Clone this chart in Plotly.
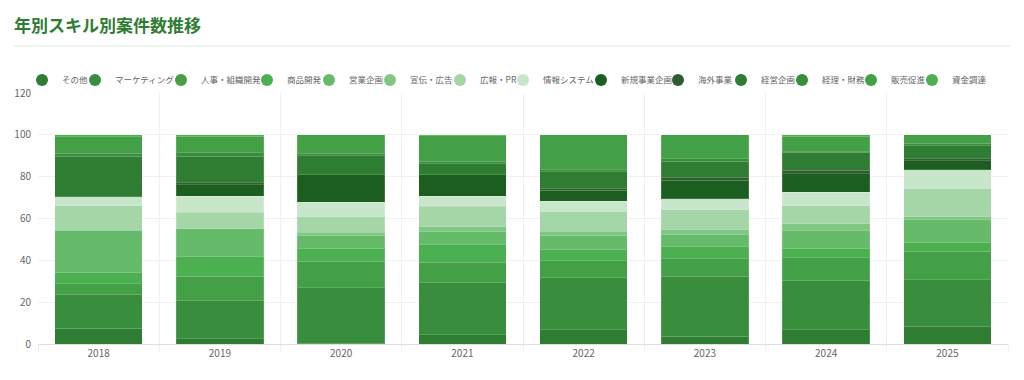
import plotly.graph_objects as go

years = ["2018", "2019", "2020", "2021", "2022", "2023", "2024", "2025"]

skills = ["その他", "マーケティング", "人事・組織開発", "商品開発", "営業企画", "宣伝・広告",
          "広報・PR", "情報システム", "新規事業企画", "海外事業", "経営企画", "経理・財務",
          "販売促進", "資金調達"]

other = [7.5, 2.6, 0.3, 4.5, 6.9, 3.7, 6.9, 8.5]
marketing = [16.3, 18.0, 26.7, 24.7, 24.7, 28.7, 23.6, 22.3]
hr = [4.9, 11.8, 12.6, 9.9, 8.3, 8.3, 10.8, 13.5]
product = [5.3, 9.5, 5.9, 8.4, 5.2, 6.0, 4.2, 4.0]
sales_plan = [20.4, 13.1, 6.3, 6.1, 6.7, 5.6, 8.9, 11.2]
advertising = [0.0, 0.0, 1.6, 2.4, 2.1, 2.4, 3.0, 1.3]
pr = [11.8, 8.0, 7.4, 9.9, 9.4, 9.6, 8.8, 13.4]
it_sys = [4.1, 7.7, 7.0, 4.8, 5.0, 5.1, 6.4, 9.2]
new_biz = [0.0, 5.5, 13.2, 10.3, 5.1, 8.9, 8.9, 4.2]
overseas = [0.0, 0.8, 0.0, 0.0, 0.8, 1.1, 1.6, 0.9]
corp_plan = [19.5, 12.8, 9.1, 5.1, 8.1, 8.0, 8.6, 6.4]
finance = [1.3, 1.6, 1.0, 1.3, 1.1, 1.1, 0.3, 1.0]
promotion = [7.9, 8.0, 8.9, 12.1, 16.6, 11.5, 7.4, 4.1]
funding = [1.0, 0.6, 0.0, 0.5, 0.0, 0.0, 0.6, 0.0]

series = [other, marketing, hr, product, sales_plan, advertising, pr, it_sys,
          new_biz, overseas, corp_plan, finance, promotion, funding]

palette = ["#2e7d32", "#388e3c", "#43a047", "#4caf50", "#66bb6a", "#81c784",
           "#a5d6a7", "#c8e6c9", "#1b5e20", "#2f5d31"]

# legend symbol centres (px) measured from reference
legend_centers_px = [47, 100, 186, 272, 334, 395, 465, 528, 606, 683, 746, 807, 876, 937]

W, H = 1024, 380
ML, MR, MT, MB = 38, 16, 93, 36
PW = W - ML - MR
PH = H - MT - MB

FONT = "Noto Sans CJK JP"

fig = go.Figure()
layout_legends = {}
for i, (name, vals) in enumerate(zip(skills, series)):
    color = palette[i % len(palette)]
    fig.add_trace(go.Bar(
        x=years, y=vals, name=name, legendgroup=name, showlegend=False,
        marker=dict(color=color, line=dict(color="rgba(255,255,255,0.15)", width=1)),
    ))
    lkey = "legend" if i == 0 else f"legend{i + 1}"
    fig.add_trace(go.Scatter(
        x=[None], y=[None], name=name, legendgroup=name, mode="markers",
        marker=dict(color=color, size=12, symbol="circle"),
        legend=lkey, showlegend=True,
    ))
    layout_legends[lkey] = dict(
        x=(legend_centers_px[i] - 25 - ML) / PW, xanchor="left",
        y=(H - MB - 80) / PH, yanchor="middle",
        orientation="h", bgcolor="rgba(0,0,0,0)", borderwidth=0,
        font=dict(family=FONT, size=8.5, color="#666666"),
        itemwidth=30,
    )

fig.update_layout(
    width=W, height=H,
    margin=dict(l=ML, r=MR, t=MT, b=MB, pad=0, autoexpand=False),
    barmode="stack", bargap=0.28,
    plot_bgcolor="white", paper_bgcolor="white",
    font=dict(family=FONT, color="#666666", size=10),
    title=dict(text="<b>年別スキル別案件数推移</b>", x=14 / W, xanchor="left",
               y=1 - 26 / H, yanchor="middle",
               font=dict(family=FONT, size=17, color="#2e7d32")),
    xaxis=dict(type="category", tickson="boundaries", showgrid=True,
               gridcolor="#f0f0f0", gridwidth=1, ticks="outside", ticklen=8,
               tickcolor="#f0f0f0", showline=True, linecolor="#e0e0e0",
               tickfont=dict(size=10, color="#666666")),
    yaxis=dict(range=[0, 120], dtick=20, showgrid=True, gridcolor="#f0f0f0",
               zeroline=False, ticks="", ticklabelstandoff=6,
               tickfont=dict(size=10, color="#666666")),
    **layout_legends,
)

fig.add_shape(type="line", xref="paper", yref="paper",
              x0=(14 - ML) / PW, x1=(1010 - ML) / PW,
              y0=(H - MB - 46) / PH, y1=(H - MB - 46) / PH,
              line=dict(color="#e8f5e9", width=1.5))

fig.write_html("out.html", config={"displayModeBar": False},
               post_script="document.body.style.margin='0';document.body.style.overflow='hidden';")
